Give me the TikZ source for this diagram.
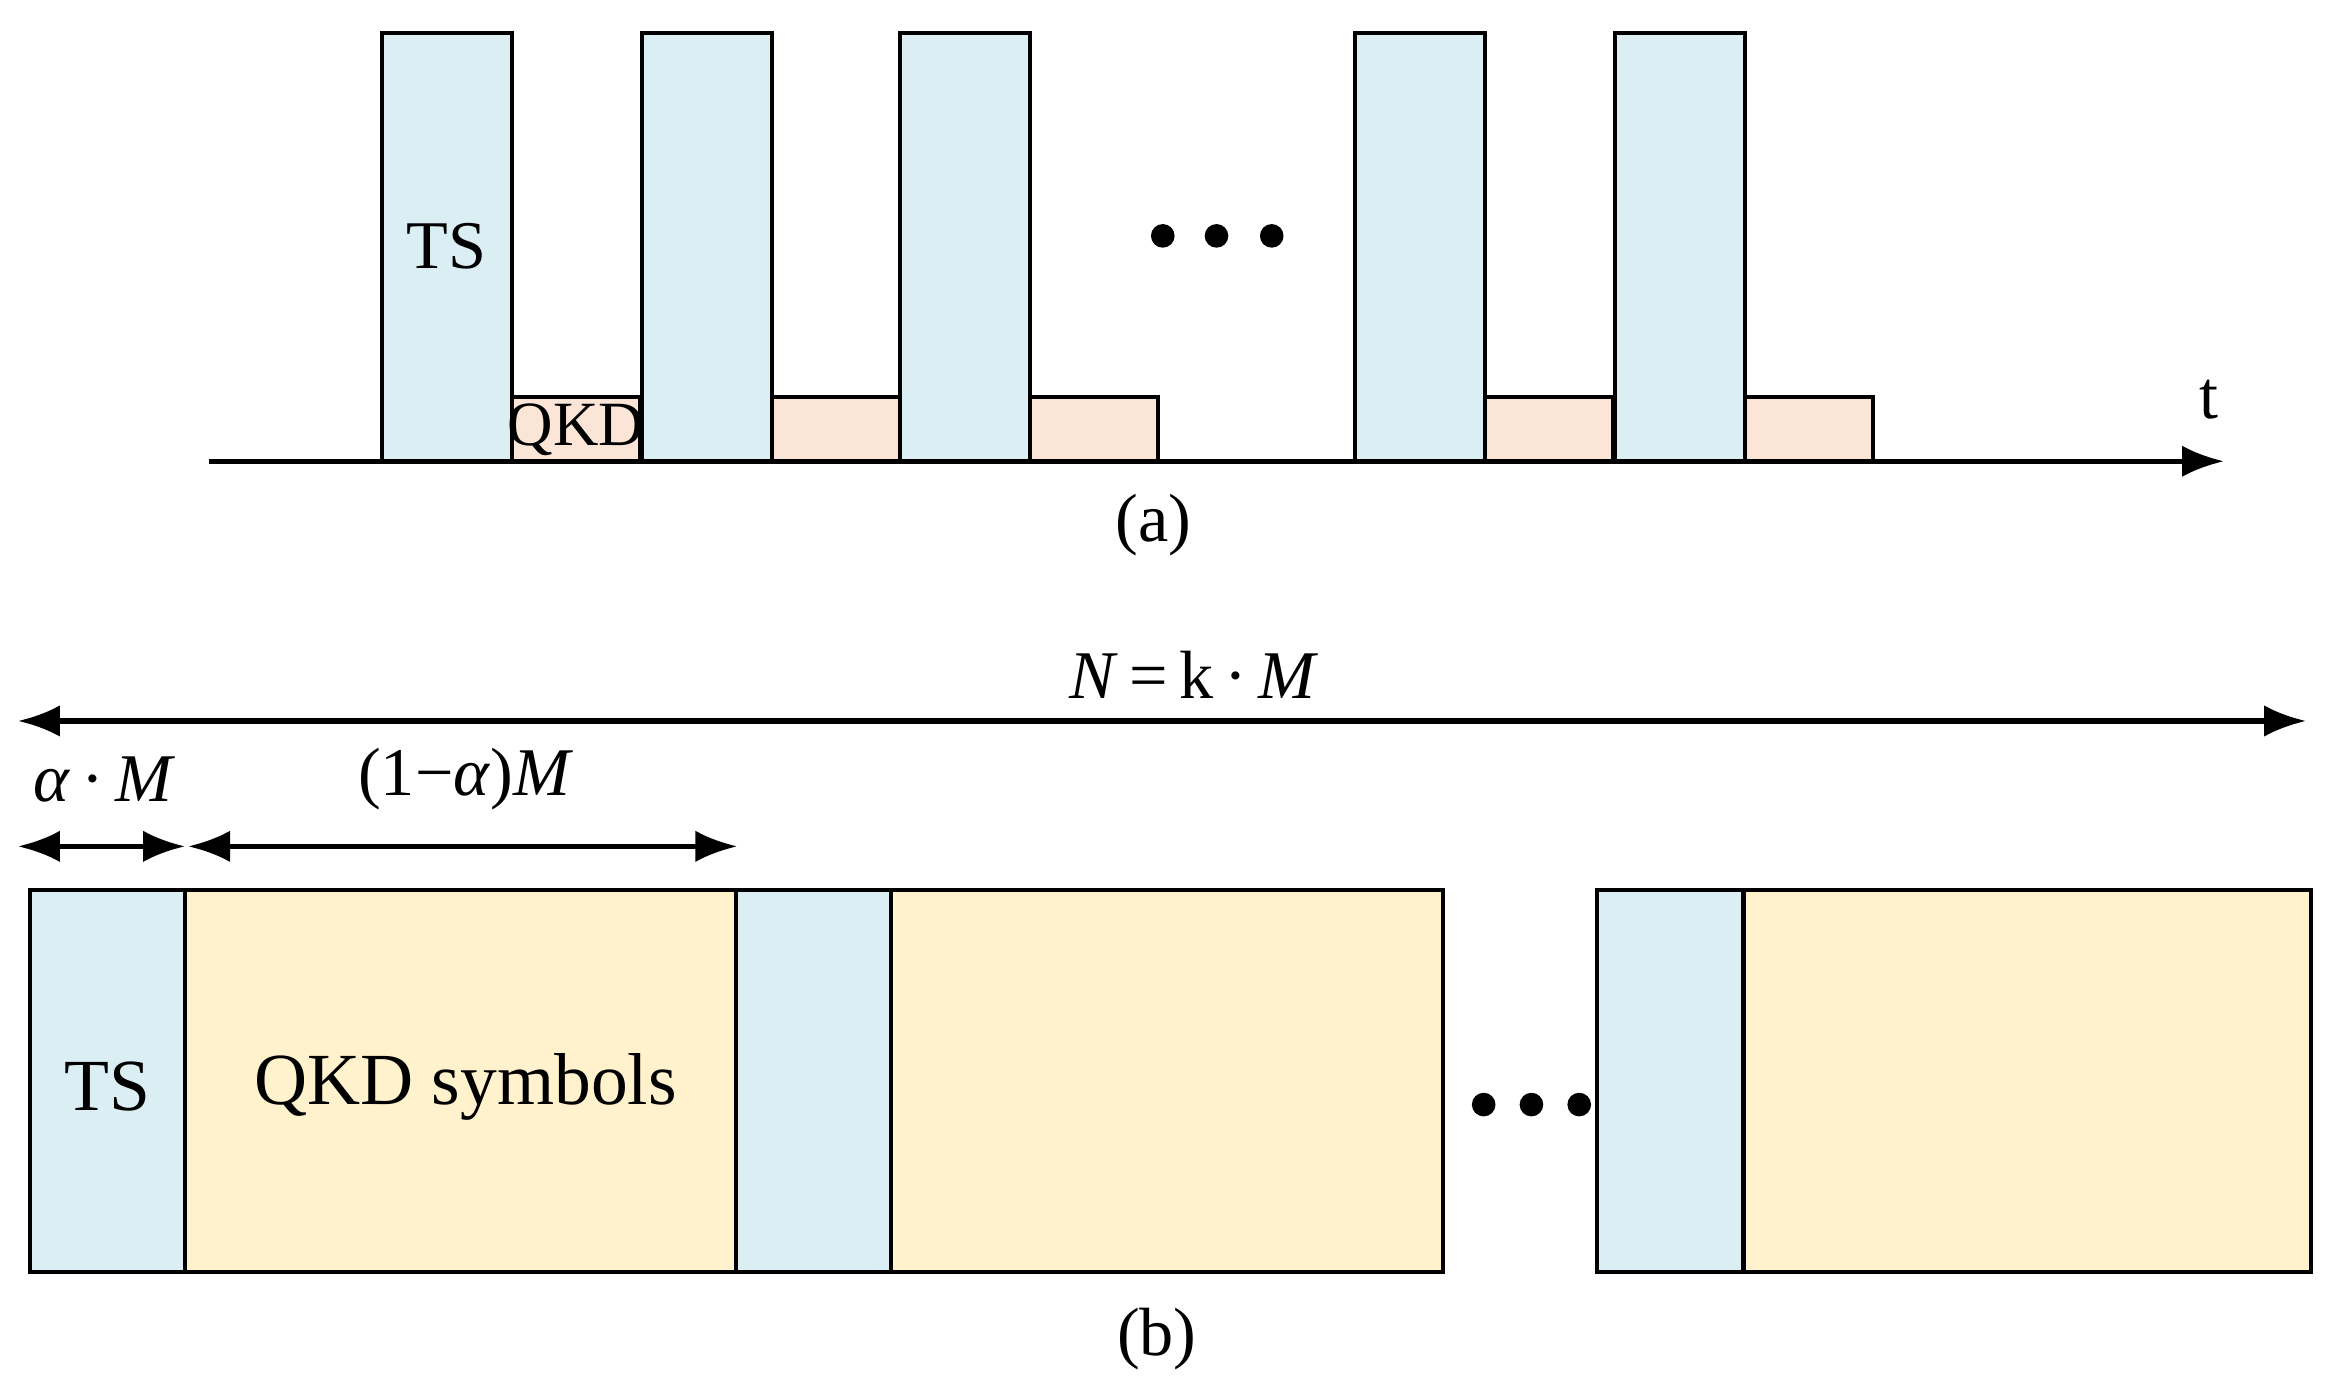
\documentclass[tikz,border=0pt]{standalone}
\usepackage{fontspec}
\setmainfont{Liberation Serif}
\usetikzlibrary{arrows.meta}
\definecolor{tsb}{HTML}{DAEEF3}
\definecolor{qp}{HTML}{FBE5D6}
\definecolor{qy}{HTML}{FFF2CC}
\begin{document}
\begin{tikzpicture}[x=0.01cm,y=-0.01cm,
  ts/.style={draw=black,line width=0.8pt,fill=tsb},
  qa/.style={draw=black,line width=0.8pt,fill=qp},
  qb/.style={draw=black,line width=0.8pt,fill=qy},
  lab/.style={font=\fontsize{13}{15}\selectfont},
  dot/.style={circle,fill=black,inner sep=0pt,minimum size=4.5pt},
  arr/.style={line width=1pt,-{Latex[length=8pt,width=6pt]}},
  darr/.style={line width=1pt,{Latex[length=8pt,width=6pt]}-{Latex[length=8pt,width=6pt]}}]
\useasboundingbox (0,0) rectangle (1563,926);
% (a)
\coordinate (a0) at (140,309); \coordinate (a1) at (1490,309);
\draw[arr] (a0) -- (a1);
\foreach \x in {343,517,690,995,1169}{\draw[qa] (\x,266) rectangle ++(86,43);}
\foreach \x in {256,430,603,908,1082}{\draw[ts] (\x,22) rectangle ++(87,287);}
\node[lab] (tsA) at (299,165) {TS};
\node[font=\fontsize{12}{14}\selectfont,inner sep=0pt] (qkdA) at (386,288) {QKD};
\node[dot] (d1) at (779,158) {}; \node[dot] (d2) at (815,158) {}; \node[dot] (d3) at (852,158) {};
\node[lab] (t) at (1480,268) {t};
\node[lab] (la) at (773,352) {(a)};
% (b)
\coordinate (n0) at (12,483); \coordinate (n1) at (1545,483);
\draw[darr] (n0) -- (n1);
\node[lab] (N) at (800,452) {\textit{N}\,=\,k\,·\,\textit{M}};
\coordinate (m0) at (12,567); \coordinate (m1) at (124,567);
\coordinate (m2) at (126,567); \coordinate (m3) at (494,567);
\draw[darr] (m0) -- (m1);
\draw[darr] (m2) -- (m3);
\node[lab] (aM) at (70,522) {\textit{α}\,·\,\textit{M}};
\node[lab] (bM) at (312,522) {(1−\textit{α})\textit{M}};
\draw[ts] (20,596) rectangle (124,852);
\draw[qb] (124,596) rectangle (493,852);
\draw[ts] (493,596) rectangle (597,852);
\draw[qb] (597,596) rectangle (967,852);
\draw[ts] (1070,596) rectangle (1168,852);
\draw[qb] (1168,596) rectangle (1548,852);
\node[font=\fontsize{14}{16}\selectfont] (tsB) at (72,728) {TS};
\node[font=\fontsize{14}{16}\selectfont] (qB) at (312,728) {QKD symbols};
\node[dot] (e1) at (994,740) {}; \node[dot] (e2) at (1026,740) {}; \node[dot] (e3) at (1058,740) {};
\node[lab] (lb) at (775,897) {(b)};
\end{tikzpicture}
\end{document}
